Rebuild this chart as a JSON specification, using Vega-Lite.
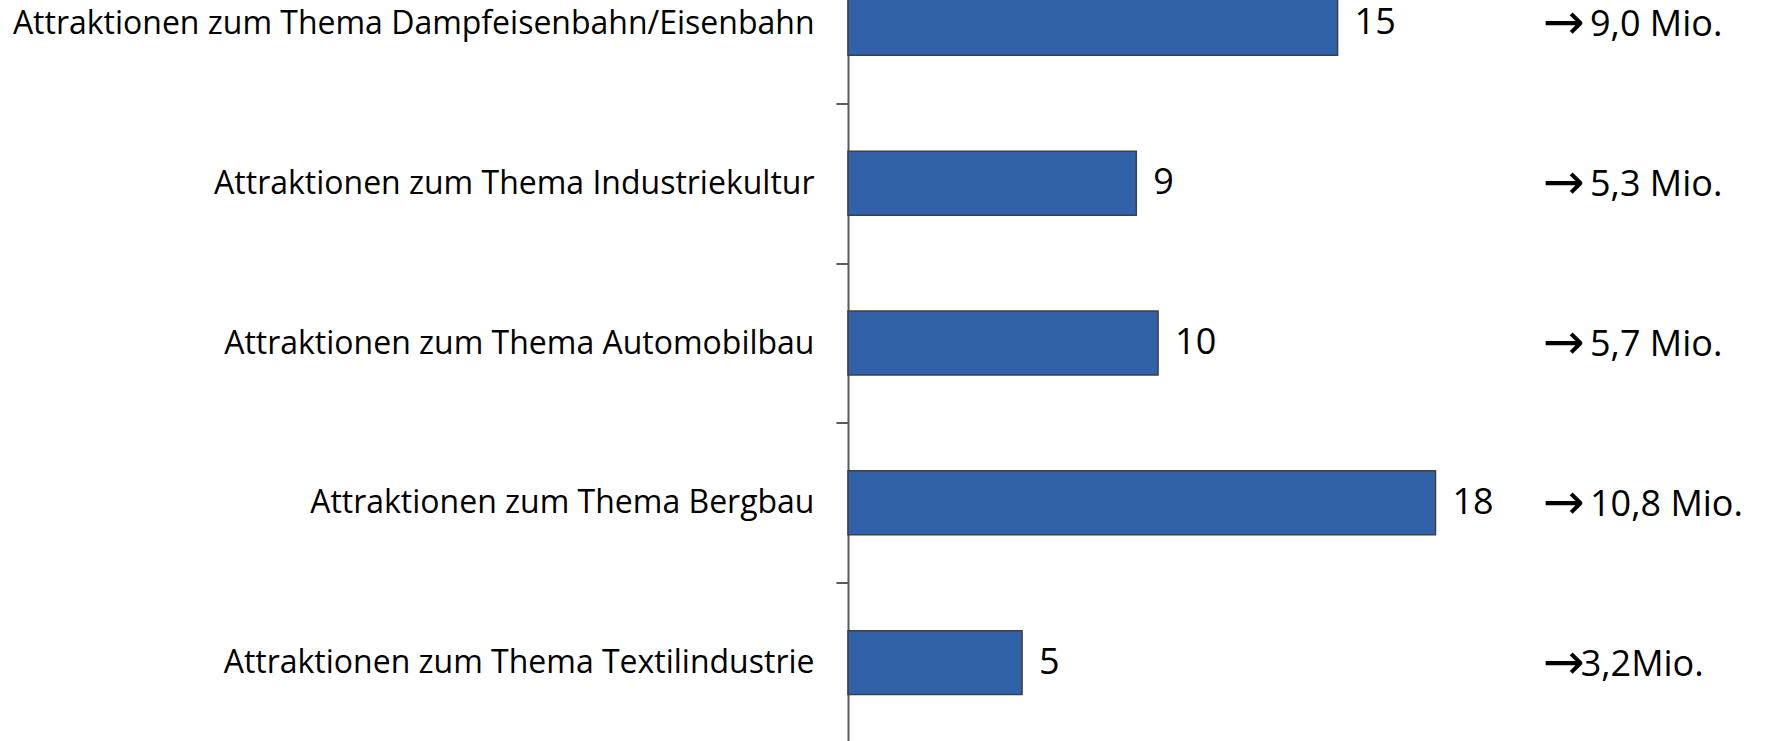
{
  "$schema": "https://vega.github.io/schema/vega-lite/v6.json",
  "width": 870.4,
  "height": 799,
  "autosize": "none",
  "padding": {"left": 848, "top": -56.5, "right": 50, "bottom": 0},
  "background": "white",
  "config": {"view": {"stroke": null}, "font": "Open Sans"},
  "data": {
    "values": [
      {"thema": "Attraktionen zum Thema Dampfeisenbahn/Eisenbahn", "anzahl": 15, "mio": 9.0, "label": "\u200b 9,0 Mio."},
      {"thema": "Attraktionen zum Thema Industriekultur", "anzahl": 9, "mio": 5.3, "label": "\u200b 5,3 Mio."},
      {"thema": "Attraktionen zum Thema Automobilbau", "anzahl": 10, "mio": 5.7, "label": "\u200b 5,7 Mio."},
      {"thema": "Attraktionen zum Thema Bergbau", "anzahl": 18, "mio": 10.8, "label": "\u200b 10,8 Mio."},
      {"thema": "Attraktionen zum Thema Textilindustrie", "anzahl": 5, "mio": 3.2, "label": "3,2Mio."}
    ]
  },
  "encoding": {
    "y": {
      "field": "thema",
      "type": "nominal",
      "sort": null,
      "scale": {"paddingInner": 0.6, "paddingOuter": 0.3},
      "axis": {
        "title": null,
        "domainColor": "#595959",
        "domainWidth": 2,
        "tickColor": "#595959",
        "tickWidth": 2,
        "tickSize": 12,
        "tickOffset": -79.9,
        "labelOffset": 79.9,
        "labelPadding": 22,
        "labelFontSize": 32,
        "labelFont": "Open Sans",
        "labelColor": "black",
        "labelLimit": 2000
      }
    }
  },
  "layer": [
    {
      "mark": {"type": "bar", "color": "#3162a7", "stroke": "#404040", "strokeWidth": 1.5},
      "encoding": {
        "x": {"field": "mio", "type": "quantitative", "scale": {"domain": [0, 16], "nice": false}, "axis": null}
      }
    },
    {
      "mark": {"type": "text", "align": "left", "baseline": "middle", "dx": 17, "fontSize": 36, "font": "Open Sans", "color": "black"},
      "encoding": {
        "x": {"field": "mio", "type": "quantitative"},
        "text": {"field": "anzahl"}
      }
    },
    {
      "mark": {"type": "text", "align": "left", "baseline": "middle", "dy": 1, "fontSize": 50, "font": "DejaVu Sans", "color": "black"},
      "encoding": {
        "x": {"datum": 12.77, "type": "quantitative"},
        "text": {"value": "→"}
      }
    },
    {
      "mark": {"type": "text", "align": "left", "baseline": "middle", "dx": 38, "dy": 2, "fontSize": 36, "font": "Open Sans", "color": "black"},
      "encoding": {
        "x": {"datum": 12.77, "type": "quantitative"},
        "text": {"field": "label"}
      }
    }
  ]
}
